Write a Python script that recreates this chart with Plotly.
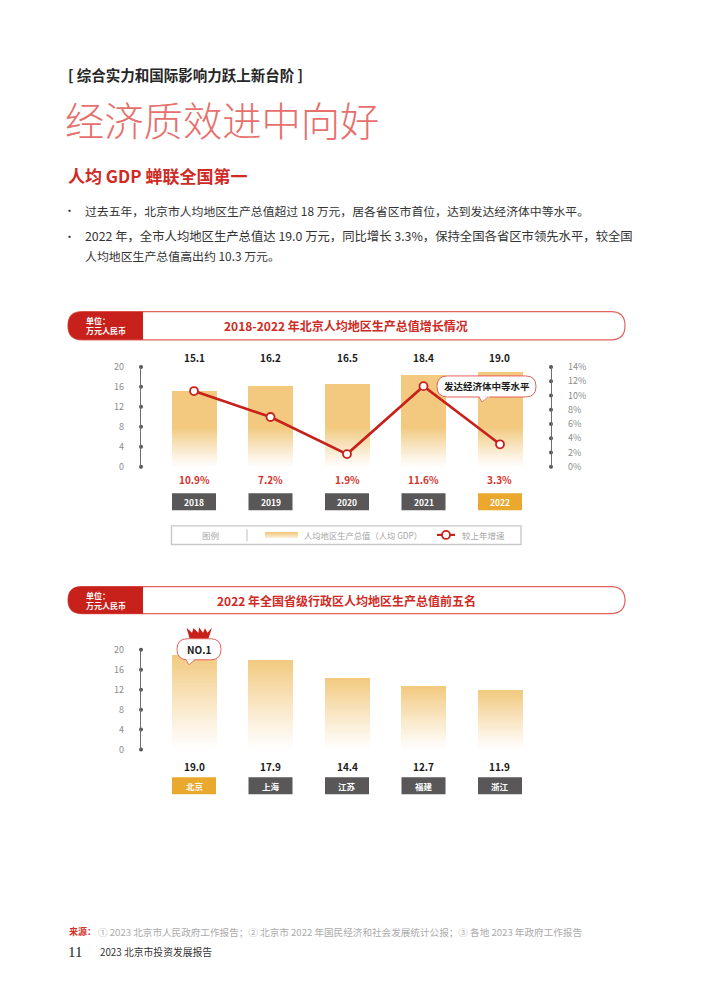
import plotly.graph_objects as go

# ---------- data ----------
years = ["2018", "2019", "2020", "2021", "2022"]
gdp_per_capita = [15.1, 16.2, 16.5, 18.4, 19.0]
growth_pct = [10.9, 7.2, 1.9, 11.6, 3.3]
regions = ["北京", "上海", "江苏", "福建", "浙江"]
region_gdp = [19.0, 17.9, 14.4, 12.7, 11.9]
gdp_ticks = [0, 4, 8, 12, 16, 20]
pct_ticks = [0, 2, 4, 6, 8, 10, 12, 14]

# ---------- style ----------
W, H = 710, 1004
FONT = "Noto Sans CJK SC"
RED = "#C8201A"
TITLE_RED = "#CF2A24"
BAR = (242, 201, 127)
DARK = "#595757"
GOLD = "#EBA82F"
GRAY = "#8C8C8C"
AXIS = "#6E6E6E"
CX0, DX = 194.0, 76.5
BAR_W = 45 / DX
XL, XR = 141.0, 551.0


def fx(px):
    return px / W


def fy(py):
    # vertical placement calibrated against the rendered picture
    return 1 - (76 + (py - 84) / 0.984) / H


def P(x, y):
    return f"{fx(x):.5f},{fy(y):.5f}"


def xdata(px):
    return (px - CX0) / DX


def mix(t):
    c = [round(255 + (b - 255) * t) for b in BAR]
    return f"rgb({c[0]},{c[1]},{c[2]})"


def rrect(x0, y0, x1, y1, rl, rr=None):
    rr = rl if rr is None else rr
    return (f"M{P(x0 + rl, y0)} L{P(x1 - rr, y0)} Q{P(x1, y0)} {P(x1, y0 + rr)} "
            f"L{P(x1, y1 - rr)} Q{P(x1, y1)} {P(x1 - rr, y1)} L{P(x0 + rl, y1)} "
            f"Q{P(x0, y1)} {P(x0, y1 - rl)} L{P(x0, y0 + rl)} Q{P(x0, y0)} {P(x0 + rl, y0)} Z")


shapes, anns = [], []


def text(x, y, s, size=12, color="#333333", bold=False, anchor="left", family=FONT, weight=None, **kw):
    t = f"<b>{s}</b>" if bold else s
    f = dict(family=family, size=size, color=color)
    if weight:
        f["weight"] = weight
    anns.append(dict(x=fx(x), y=fy(y), xref="paper", yref="paper", text=t, showarrow=False,
                     xanchor=anchor, yanchor="middle", borderpad=0, font=f, **kw))


def path(d, fill="rgba(0,0,0,0)", line=None, lw=1.0):
    shapes.append(dict(type="path", xref="paper", yref="paper", path=d, fillcolor=fill,
                       line=dict(color=line or "rgba(0,0,0,0)", width=lw if line else 0),
                       layer="above"))


def rect(x0, y0, x1, y1, fill, line=None, lw=0):
    shapes.append(dict(type="rect", xref="paper", yref="paper", x0=fx(x0), x1=fx(x1),
                       y0=fy(y0), y1=fy(y1), fillcolor=fill,
                       line=dict(color=line or "rgba(0,0,0,0)", width=lw), layer="above"))


def pill(y0, y1, title, cx):
    path(rrect(68, y0, 625, y1, 14), fill="white", line="#E2625C", lw=1.2)
    r = (y1 - y0) / 2
    d = (f"M{P(68 + r, y0)} L{P(143, y0)} L{P(143, y1)} L{P(68 + r, y1)} "
         f"Q{P(68, y1)} {P(68, y1 - r)} Q{P(68, y0)} {P(68 + r, y0)} Z")
    path(d, fill="#C8201A")
    ym = (y0 + y1) / 2
    text(85, ym - 5, "单位：", 8, "white", True)
    text(85, ym + 5, "万元人民币", 8, "white", True)
    text(cx, ym, title, 12, TITLE_RED, True, "center")


def box(i, y, s, highlight):
    cx = CX0 + DX * i
    rect(cx - 22, y - 8.5, cx + 22, y + 8.5, GOLD if highlight else DARK)
    text(cx, y, s, 8.5, "white", True, "center")


def gradient_bars(values, xaxis, yaxis, fade_top=None, n=30):
    xs, bases, heights, colors = [], [], [], []
    for i, v in enumerate(values):
        top = v if fade_top is None else min(fade_top, v)
        for k in range(n):
            xs.append(i)
            bases.append(top * k / n)
            heights.append(top / n)
            colors.append(mix(((k + 0.5) / n) ** 1.1))
        if v > top:
            xs.append(i)
            bases.append(top)
            heights.append(v - top)
            colors.append(mix(1))
    return go.Bar(x=xs, y=heights, base=bases, width=BAR_W, xaxis=xaxis, yaxis=yaxis,
                  marker=dict(color=colors, line=dict(width=0)), hoverinfo="skip", showlegend=False)


def dots(px, ticks, xaxis, yaxis):
    return go.Scatter(x=[xdata(px)] * len(ticks), y=ticks, mode="markers", xaxis=xaxis, yaxis=yaxis,
                      marker=dict(size=4, color="#555555"), cliponaxis=False,
                      hoverinfo="skip", showlegend=False)


fig = go.Figure()
# chart 1
fig.add_trace(gradient_bars(gdp_per_capita, "x", "y", fade_top=8))
fig.add_trace(dots(XL, gdp_ticks, "x", "y"))
fig.add_trace(dots(XR, pct_ticks, "x", "y2"))
fig.add_trace(go.Scatter(x=list(range(len(years))), y=growth_pct, mode="lines+markers", xaxis="x", yaxis="y3",
                         line=dict(color=RED, width=2.6),
                         marker=dict(size=8, color="white", line=dict(color=RED, width=1.8)),
                         cliponaxis=False, hoverinfo="skip", showlegend=False))
# chart 2
fig.add_trace(gradient_bars(region_gdp, "x2", "y4"))
fig.add_trace(dots(XL, gdp_ticks, "x2", "y4"))

# ---------- page text ----------
text(67, 77, "[ 综合实力和国际影响力跃上新台阶 ]", 14.5, "#262626", True)
text(64, 120.5, "经济质效进中向好", 39.3, "#E6706C", weight=300)
text(67, 177, "人均 GDP 蝉联全国第一", 17, TITLE_RED, True)
text(63, 212, "•", 11, "#333333")
text(84, 212, "过去五年，北京市人均地区生产总值超过 18 万元，居各省区市首位，达到发达经济体中等水平。", 11.85)
text(63, 238, "•", 11, "#333333")
text(84, 238, "2022 年，全市人均地区生产总值达 19.0 万元，同比增长 3.3%，保持全国各省区市领先水平，较全国", 12.35)
text(84, 257, "人均地区生产总值高出约 10.3 万元。", 11.9)

# ---------- chart 1 furniture ----------
pill(313, 341, "2018-2022 年北京人均地区生产总值增长情况", 345.5)
for i, (y, g, v) in enumerate(zip(years, growth_pct, gdp_per_capita)):
    cx = CX0 + DX * i
    text(cx, 359, f"{v:.1f}", 10, "#1A1A1A", True, "center")
    text(cx, 480, f"{g}%", 10, "#D5322C", True, "center")
    box(i, 502.5, y, y == "2022")

# callout
path(rrect(437, 377, 536, 398, 10.5), fill="white", line="#E2625C", lw=1)
path(f"M{P(479, 397)} L{P(482, 403)} L{P(490, 397.5)} Z", fill="white")
path(f"M{P(479, 398)} L{P(482, 403)} L{P(488, 398)}", line="#E2625C", lw=0.8)
text(486.5, 387.5, "发达经济体中等水平", 9.5, "#1A1A1A", True, "center")

# legend
rect(171.5, 526.5, 521, 545, "white", "#C9C9C9", 1.4)
text(210, 536, "图例", 8.5, "#A6A6A6", False, "center")
shapes.append(dict(type="line", xref="paper", yref="paper", x0=fx(247), x1=fx(247), y0=fy(530), y1=fy(542),
                   line=dict(color="#BDBDBD", width=1), layer="above"))
for k in range(6):
    rect(265, 532.5 + k, 298, 533.5 + k, mix(1 - k * 0.13))
text(303, 536, "人均地区生产总值（人均 GDP）", 8.3, "#A6A6A6")
shapes.append(dict(type="line", xref="paper", yref="paper", x0=fx(437), x1=fx(455), y0=fy(535.5), y1=fy(535.5),
                   line=dict(color=RED, width=2.2), layer="above"))
shapes.append(dict(type="circle", xref="paper", yref="paper", x0=fx(442), x1=fx(450), y0=fy(539.5), y1=fy(531.5),
                   fillcolor="white", line=dict(color=RED, width=1.8), layer="above"))
text(461, 536, "较上年增速", 8.5, "#A6A6A6")

# ---------- chart 2 furniture ----------
pill(587, 614, "2022 年全国省级行政区人均地区生产总值前五名", 346)
for i, (r, v) in enumerate(zip(regions, region_gdp)):
    cx = CX0 + DX * i
    text(cx, 766, f"{v:.1f}", 10, "#1A1A1A", True, "center")
    box(i, 785.5, r, r == "北京")

# crown + NO.1 bubble
path(f"M{P(190, 640)} L{P(186.5, 628)} L{P(192, 633)} L{P(193.5, 628.5)} L{P(198.5, 633)} L{P(199, 627.5)} "
     f"L{P(203, 633)} L{P(205, 628.5)} L{P(207.5, 633)} L{P(212, 628)} L{P(208, 640)} Z", fill="#C8201A")
path(rrect(177, 639, 221, 660, 10.5), fill="white", line="#E2625C", lw=1)
path(f"M{P(186, 659.5)} L{P(189, 665)} L{P(195, 659.5)} Z", fill="white")
path(f"M{P(186, 660)} L{P(189, 665)} L{P(195, 660)}", line="#E2625C", lw=0.8)
text(199, 649.5, "NO.1", 10, "#1A1A1A", True, "center")

# ---------- footer ----------
text(68, 931, "来源：", 9, "#D5322C", True)
text(97, 931, "① 2023 北京市人民政府工作报告；② 北京市 2022 年国民经济和社会发展统计公报；③ 各地 2023 年政府工作报告", 9.6, "#ABABAB")
text(67, 951, "11", 15, "#262626", False, family="Liberation Serif")
text(99, 951, "2023 北京市投资发展报告", 9.8, "#333333")

# ---------- axes ----------
xrange_common = [xdata(XL), xdata(XR)]
dom_x = [fx(XL), fx(XR)]
d1 = [fy(467.5), fy(368)]
d2 = [fy(749.5), fy(650)]


def y_axis(ticks, rng, dom, side, suffix="", **kw):
    return dict(range=rng, domain=dom, tickvals=ticks, ticktext=[f"{t}{suffix}" for t in ticks], side=side,
                showgrid=False, zeroline=False, showline=True, linecolor=AXIS, linewidth=1.4,
                ticks="outside", ticklen=14, tickwidth=1, tickcolor="rgba(0,0,0,0)",
                tickfont=dict(family=FONT, size=9, color=GRAY), fixedrange=True, **kw)


hidden_x = dict(range=xrange_common, domain=dom_x, visible=False, fixedrange=True)
fig.update_layout(
    width=W, height=H, autosize=False,
    margin=dict(l=0, r=0, t=0, b=0),
    paper_bgcolor="white", plot_bgcolor="rgba(0,0,0,0)",
    barmode="overlay", bargap=0, showlegend=False,
    font=dict(family=FONT),
    shapes=shapes, annotations=anns,
    xaxis=dict(**hidden_x, anchor="y"),
    xaxis2=dict(**hidden_x, anchor="y4"),
    yaxis=y_axis(gdp_ticks, [0, 20], d1, "left", anchor="x"),
    yaxis2=y_axis(pct_ticks, [0, 14], d1, "right", "%", anchor="x", overlaying="y"),
    yaxis3=dict(range=[0.1, 14.35], domain=d1, visible=False, overlaying="y", anchor="x", fixedrange=True),
    yaxis4=y_axis(gdp_ticks, [0, 20], d2, "left", anchor="x2"),
)

fig.write_html("out.html", config=dict(displayModeBar=False),
               post_script="document.body.style.margin='0';")
